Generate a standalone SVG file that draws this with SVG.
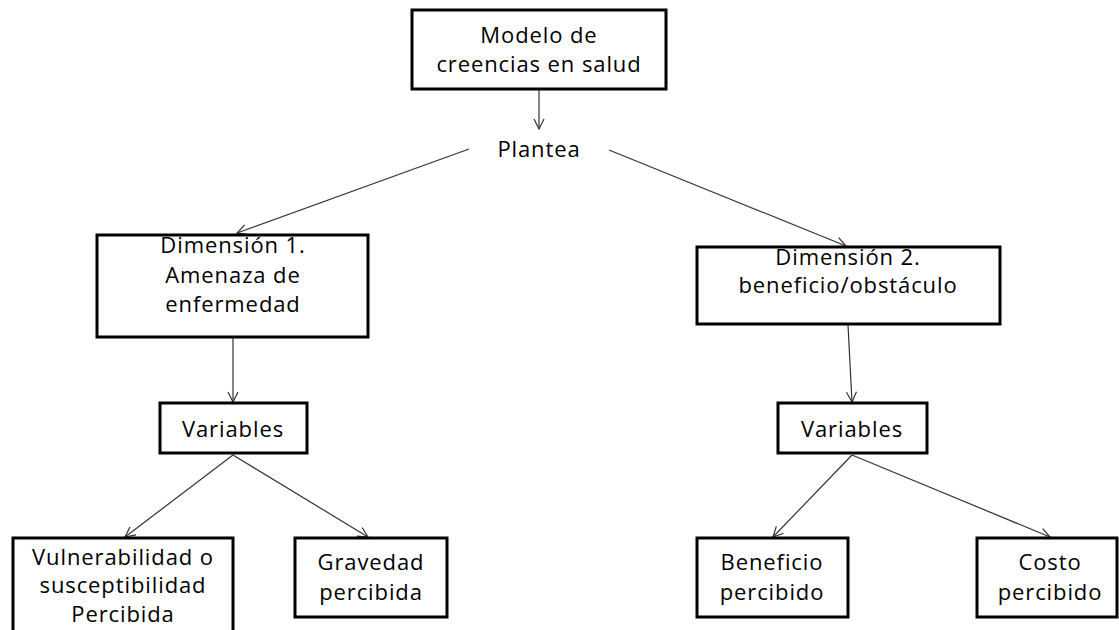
<svg xmlns="http://www.w3.org/2000/svg" width="1119" height="630" viewBox="0 0 1119 630">
<style>
.box{fill:#fff;stroke:#000;stroke-width:3}
.t{font-family:"Open Sans","Liberation Sans",sans-serif;font-size:22px;letter-spacing:0.9px;fill:#000;text-anchor:middle}
.c{stroke:#333;stroke-width:1.2;fill:none;marker-end:url(#ah)}
</style>
<defs>
<marker id="ah" viewBox="0 0 12 12" refX="11" refY="6" markerWidth="12" markerHeight="12" markerUnits="userSpaceOnUse" orient="auto">
<path d="M1,1 L11,6 L1,11" fill="none" stroke="#333" stroke-width="1.2"/>
</marker>
</defs>
<rect width="1119" height="630" fill="#fff"/>
<g id="connectors">
<line class="c" x1="539" y1="89" x2="539" y2="129"/>
<line class="c" x1="469" y1="149" x2="237" y2="233"/>
<line class="c" x1="609" y1="150" x2="846" y2="246"/>
<line class="c" x1="233" y1="338" x2="233" y2="402"/>
<line class="c" x1="848" y1="325" x2="852" y2="402"/>
<line class="c" x1="233" y1="455" x2="125" y2="537"/>
<line class="c" x1="233" y1="455" x2="368" y2="537"/>
<line class="c" x1="852" y1="455" x2="773" y2="537"/>
<line class="c" x1="852" y1="455" x2="1050" y2="537"/>
</g>
<g id="modelo">
<rect class="box" x="412" y="10" width="254" height="79"/>
<text class="t" x="539" y="43">Modelo de</text>
<text class="t" x="539" y="72">creencias en salud</text>
</g>
<g id="plantea">
<text class="t" x="539" y="157">Plantea</text>
</g>
<g id="dim1">
<rect class="box" x="97" y="235" width="271" height="102"/>
<text class="t" x="233" y="253">Dimensión 1.</text>
<text class="t" x="233" y="283">Amenaza de</text>
<text class="t" x="233" y="312">enfermedad</text>
</g>
<g id="dim2">
<rect class="box" x="697" y="247" width="303" height="77"/>
<text class="t" x="848" y="265">Dimensión 2.</text>
<text class="t" x="848" y="293">beneficio/obstáculo</text>
</g>
<g id="var1">
<rect class="box" x="160" y="403" width="147" height="50"/>
<text class="t" x="233" y="437">Variables</text>
</g>
<g id="var2">
<rect class="box" x="778" y="403" width="149" height="50"/>
<text class="t" x="852" y="437">Variables</text>
</g>
<g id="vulnerabilidad">
<rect class="box" x="13" y="538" width="220" height="100"/>
<text class="t" x="123" y="565">Vulnerabilidad o</text>
<text class="t" x="123" y="593">susceptibilidad</text>
<text class="t" x="123" y="622">Percibida</text>
</g>
<g id="gravedad">
<rect class="box" x="295" y="538" width="152" height="79"/>
<text class="t" x="371" y="570">Gravedad</text>
<text class="t" x="371" y="600">percibida</text>
</g>
<g id="beneficio">
<rect class="box" x="697" y="538" width="151" height="79"/>
<text class="t" x="772" y="570">Beneficio</text>
<text class="t" x="772" y="600">percibido</text>
</g>
<g id="costo">
<rect class="box" x="977" y="538" width="140" height="79"/>
<text class="t" x="1050" y="570">Costo</text>
<text class="t" x="1050" y="600">percibido</text>
</g>
</svg>
